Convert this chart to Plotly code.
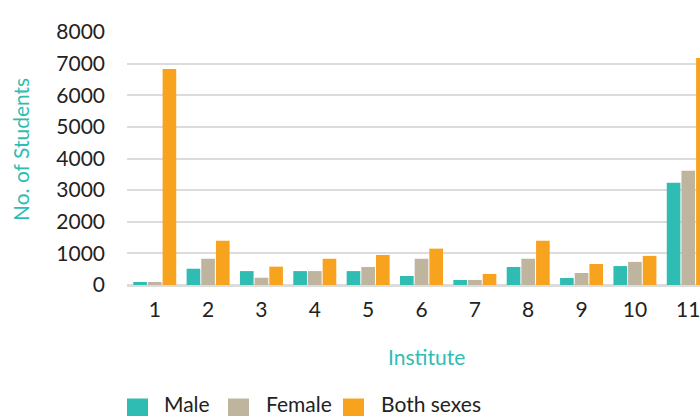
import plotly.graph_objects as go

institutes = ["1", "2", "3", "4", "5", "6", "7", "8", "9", "10", "11"]
male = [95, 515, 440, 440, 440, 285, 160, 570, 220, 600, 3230]
female = [95, 830, 230, 440, 570, 830, 160, 830, 380, 730, 3610]
both = [6830, 1400, 580, 830, 950, 1150, 350, 1400, 665, 920, 7180]
series_names = ["Male", "Female", "Both sexes"]
colors = ["#2FBDB3", "#BFB49D", "#F8A31E"]
y_ticks = [0, 1000, 2000, 3000, 4000, 5000, 6000, 7000, 8000]

W, H = 700, 416
L, R, T, B = 127, 0, 32, 131
PW, PH = W - L - R, H - T - B

def px(x):
    return (x - L) / PW

def py(y):
    return (H - B - y) / PH

FONT = "Lato"
TEXT = "#222222"
TEAL = "#2FBDB3"
FS = 21

fig = go.Figure()
for name, vals, col in zip(series_names, [male, female, both], colors):
    fig.add_trace(go.Bar(x=institutes, y=vals, name=name, marker=dict(color=col, line=dict(width=0)),
                         showlegend=False))

fig.update_layout(
    width=W, height=H,
    margin=dict(l=L, r=R, t=T, b=B),
    plot_bgcolor="white", paper_bgcolor="white",
    barmode="group", bargap=0.175, bargroupgap=0.07,
    font=dict(family=FONT, size=FS, color=TEXT),
    xaxis=dict(type="category", range=[-0.52, 10.22], showgrid=False, showline=False,
               ticks="", ticklabelstandoff=10, tickfont=dict(size=FS, color=TEXT)),
    yaxis=dict(range=[0, 8000], tickvals=y_ticks, showgrid=True, gridcolor="#DCDCDC", gridwidth=1.6,
               zeroline=True, zerolinecolor="#DCDCDC", zerolinewidth=2.5, showline=False,
               ticks="", ticklabelstandoff=21, tickfont=dict(size=FS, color=TEXT)),
)

fig.add_annotation(text="No. of Students", xref="paper", yref="paper", x=px(20), y=py(150),
                   textangle=-90, showarrow=False, font=dict(size=FS, color=TEAL, family=FONT),
                   xanchor="center", yanchor="middle")
fig.add_annotation(text="Institute", xref="paper", yref="paper", x=px(426), y=py(356),
                   showarrow=False, font=dict(size=FS, color=TEAL, family=FONT),
                   xanchor="center", yanchor="middle")

legend_items = [(127, 163), (228, 265), (343, 380)]
for (sx, tx), name, col in zip(legend_items, series_names, colors):
    fig.add_shape(type="rect", xref="paper", yref="paper", x0=px(sx), x1=px(sx + 21),
                  y0=py(398.5), y1=py(416), fillcolor=col, line=dict(width=0))
    fig.add_annotation(text=name, xref="paper", yref="paper", x=px(tx), y=py(403.5),
                       showarrow=False, xanchor="left", yanchor="middle", borderpad=0,
                       font=dict(size=FS, color=TEXT, family=FONT))

fig.write_html("out.html", config={"displayModeBar": False},
               post_script="document.body.style.margin='0';document.body.style.overflow='hidden';")
